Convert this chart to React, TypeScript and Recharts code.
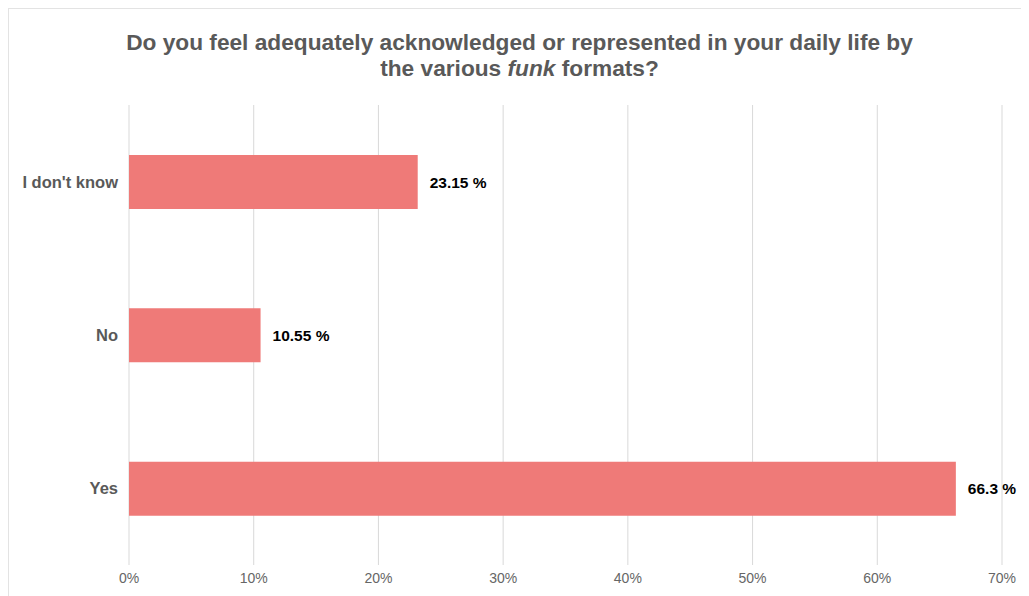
import React from 'react';
import { BarChart, Bar, XAxis, YAxis, CartesianGrid, LabelList } from 'recharts';

const categories = ["I don't know", 'No', 'Yes'];
const shares = [23.15, 10.55, 66.3];
const xTicks = [0, 10, 20, 30, 40, 50, 60, 70];

const data = categories.map((answer, i) => ({ answer, share: shares[i] }));

const FONT = '"Liberation Sans", Arial, Helvetica, sans-serif';

const App: React.FC = () => {
  return (
    <div
      style={{
        position: 'relative',
        width: 1021,
        height: 588,
        borderLeft: '1px solid #e3e3e3',
        borderTop: '1px solid #e3e3e3',
        boxSizing: 'border-box',
        fontFamily: FONT,
        background: '#fff',
      }}
    >
      <div
        style={{
          position: 'absolute',
          top: 20,
          left: 0,
          width: 1021,
          textAlign: 'center',
          fontSize: 22.7,
          fontWeight: 'bold',
          color: '#595959',
          lineHeight: '26px',
        }}
      >
        Do you feel adequately acknowledged or represented in your daily life by
        <br />
        the various <i>funk</i> formats?
      </div>
      <BarChart
        width={1020}
        height={587}
        data={data}
        layout="vertical"
        margin={{ top: 96, right: 27, bottom: 0, left: 10 }}
        barCategoryGap={0}
      >
        <CartesianGrid horizontal={false} stroke="#d9d9d9" />
        <XAxis
          type="number"
          domain={[0, 70]}
          ticks={xTicks}
          tickFormatter={(v: number) => `${v}%`}
          axisLine={false}
          tickLine={false}
          tick={{ fill: '#666', fontSize: 14, fontFamily: FONT }}
          height={31}
        />
        <YAxis
          type="category"
          dataKey="answer"
          width={110}
          axisLine={false}
          tickLine={false}
          tickMargin={5}
          tick={{ fill: '#595959', fontSize: 16.5, fontWeight: 'bold', fontFamily: FONT }}
        />
        <Bar dataKey="share" fill="#EF7A78" barSize={54} isAnimationActive={false}>
          <LabelList
            dataKey="share"
            position="right"
            offset={12}
            formatter={(v: number) => `${v} %`}
            style={{ fill: '#000', fontSize: 15.5, fontWeight: 'bold', fontFamily: FONT }}
          />
        </Bar>
      </BarChart>
    </div>
  );
};

export default App;
